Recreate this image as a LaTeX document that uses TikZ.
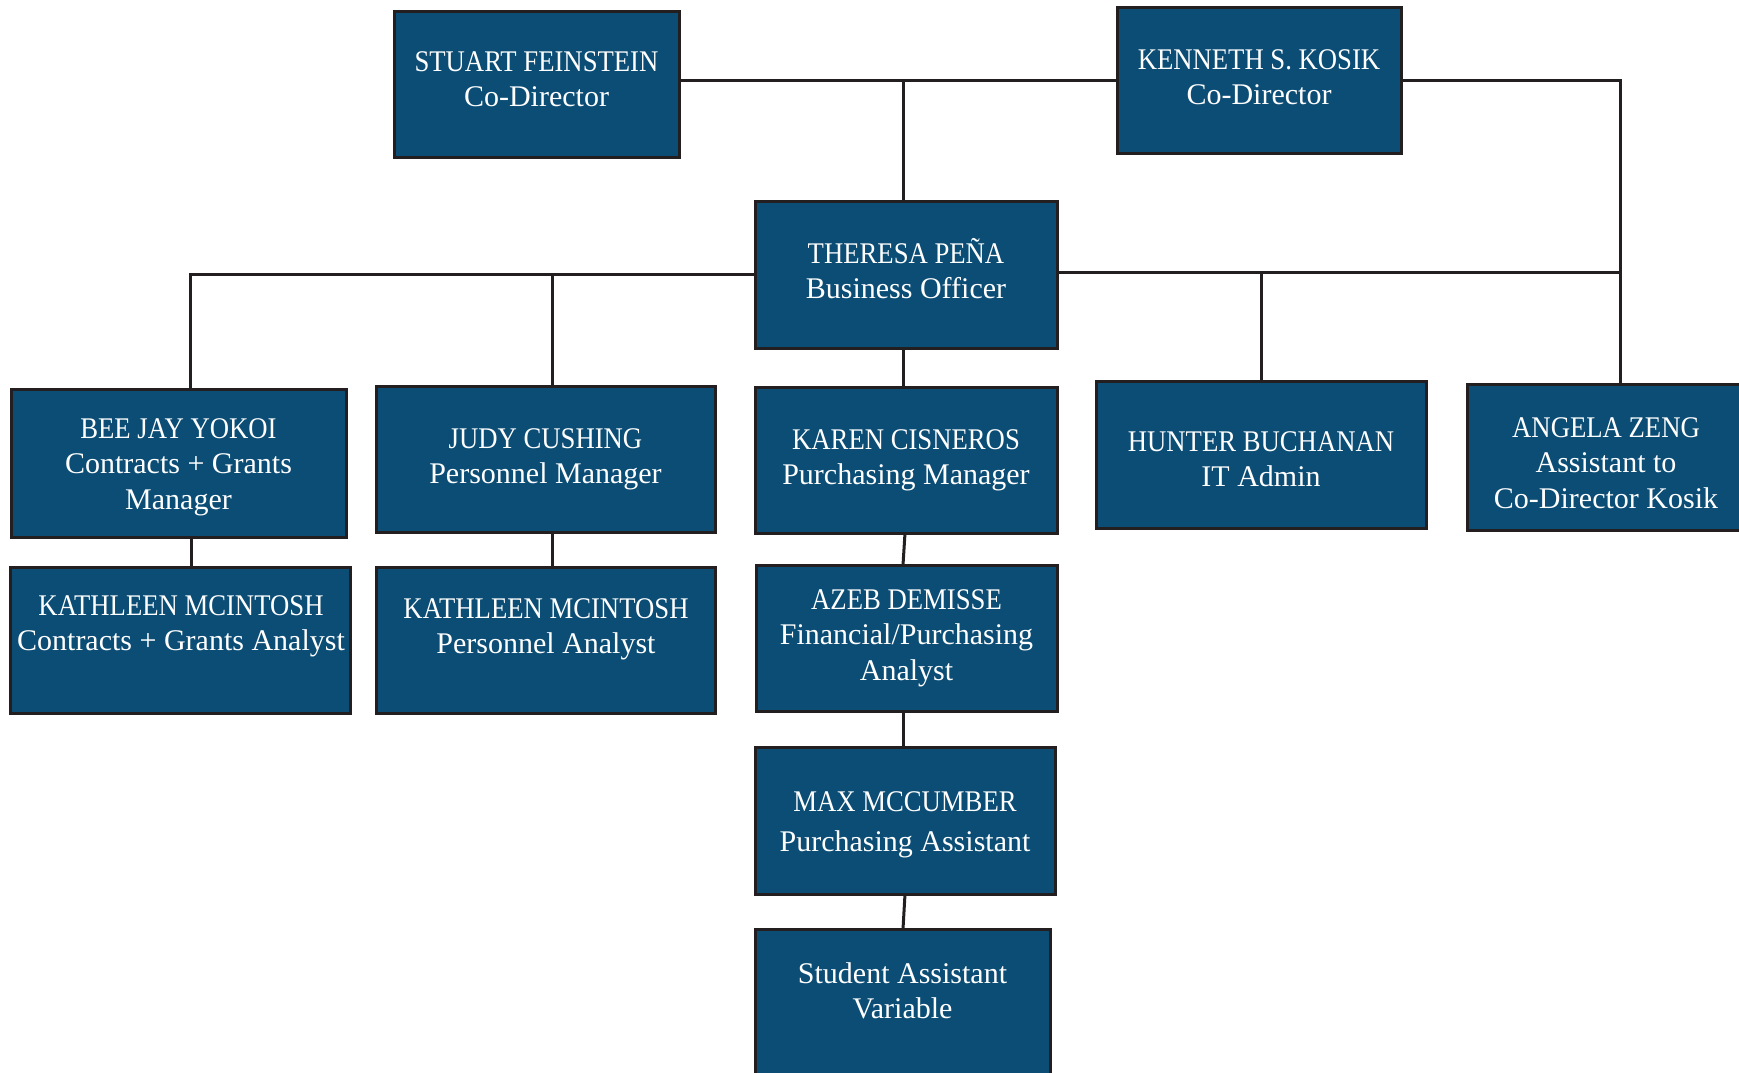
\documentclass[tikz,border=0pt]{standalone}
\usepackage{fontspec}
\setmainfont{Liberation Serif}
\newfontfamily\namefont[FakeStretch=0.89]{Liberation Serif}
\definecolor{boxblue}{RGB}{11,77,117}
\definecolor{edge}{RGB}{35,31,32}
\begin{document}
\begin{tikzpicture}[x=1pt,y=-1pt,
  box/.style={draw=edge, line width=3pt, fill=boxblue, inner sep=0, outer sep=0},
  txt/.style={anchor=north, inner sep=0, align=center, text=white, font=\fontsize{30}{35.5}\selectfont},
  link/.style={draw=edge, line width=3pt}]
\useasboundingbox (0,0) rectangle (1739,1072);
% boxes
\node[box, minimum width=285, minimum height=146] (stuart) at (536.5,84) {};
\node[box, minimum width=284, minimum height=146] (kenneth) at (1259,80) {};
\node[box, minimum width=302, minimum height=147] (theresa) at (906,274.5) {};
\node[box, minimum width=335, minimum height=148] (bee) at (178.5,463) {};
\node[box, minimum width=339, minimum height=146] (judy) at (545.5,459) {};
\node[box, minimum width=302, minimum height=146] (karen) at (906,460) {};
\node[box, minimum width=330, minimum height=147] (hunter) at (1261,454.5) {};
\node[box, minimum width=278, minimum height=146] (angela) at (1606,457) {};
\node[box, minimum width=340, minimum height=146] (kath1) at (180,640) {};
\node[box, minimum width=339, minimum height=146] (kath2) at (545.5,640) {};
\node[box, minimum width=301, minimum height=146] (azeb) at (906.5,638) {};
\node[box, minimum width=300, minimum height=147] (max) at (905,820.5) {};
\node[box, minimum width=295, minimum height=156] (student) at (902.5,1007) {};
% texts
\node[txt] (stuartT) at (536.5,46) {\strut{\namefont STUART FEINSTEIN}\\Co-Director};
\node[txt] (kennethT) at (1259,44) {\strut{\namefont KENNETH S. KOSIK}\\Co-Director};
\node[txt] (theresaT) at (906,238) {\strut{\namefont THERESA PEÑA}\\Business Officer};
\node[txt] (beeT) at (178.5,413) {\strut{\namefont BEE JAY YOKOI}\\Contracts + Grants\\Manager};
\node[txt] (judyT) at (545.5,423) {\strut{\namefont JUDY CUSHING}\\Personnel Manager};
\node[txt] (karenT) at (906,424) {\strut{\namefont KAREN CISNEROS}\\Purchasing Manager};
\node[txt] (hunterT) at (1261,426) {\strut{\namefont HUNTER BUCHANAN}\\IT Admin};
\node[txt] (angelaT) at (1606,412) {\strut{\namefont ANGELA ZENG}\\Assistant to\\Co-Director Kosik};
\node[txt] (kath1T) at (181,590) {\strut{\namefont KATHLEEN MCINTOSH}\\Contracts + Grants Analyst};
\node[txt] (kath2T) at (546,593) {\strut{\namefont KATHLEEN MCINTOSH}\\Personnel Analyst};
\node[txt] (azebT) at (906.5,584) {\strut{\namefont AZEB DEMISSE}\\Financial/Purchasing\\Analyst};
\node[txt, font=\fontsize{30}{40}\selectfont] (maxT) at (905,783) {\strut{\namefont MAX MCCUMBER}\\Purchasing Assistant};
\node[txt] (studentT) at (902.5,958) {\strut Student Assistant\\Variable};
% junction coordinates
\coordinate (jtop) at (903,80);
\coordinate (jleft) at (190,274);
\coordinate (jjudy) at (552,274);
\coordinate (jright) at (1620,272);
\coordinate (jhunter) at (1261,272);
\coordinate (kcorner) at (1620,80);
% connectors
\draw[link] (stuart.east |- kenneth.west) -- (kenneth.west);
\draw[link] (jtop) -- (jtop |- theresa.north);
\draw[link] (kenneth.east) -- (kcorner) -- (kcorner |- angela.north);
\draw[link] (theresa.west |- jleft) -- (jleft) -- (jleft |- bee.north);
\draw[link] (jjudy) -- (jjudy |- judy.north);
\draw[link] (theresa.east |- jright) -- (jright);
\draw[link] (jhunter) -- (jhunter |- hunter.north);
\draw[link] (theresa.south -| jtop) -- (karen.north -| jtop);
\draw[link] (bee.south -| 191,0) -- (kath1.north -| 191,0);
\draw[link] (judy.south -| jjudy) -- (kath2.north -| jjudy);
\draw[link] (karen.south -| 905,0) -- (azeb.north -| 903,0);
\draw[link] (azeb.south -| jtop) -- (max.north -| jtop);
\draw[link] (max.south -| 905,0) -- (student.north -| 903,0);
\end{tikzpicture}
\end{document}
